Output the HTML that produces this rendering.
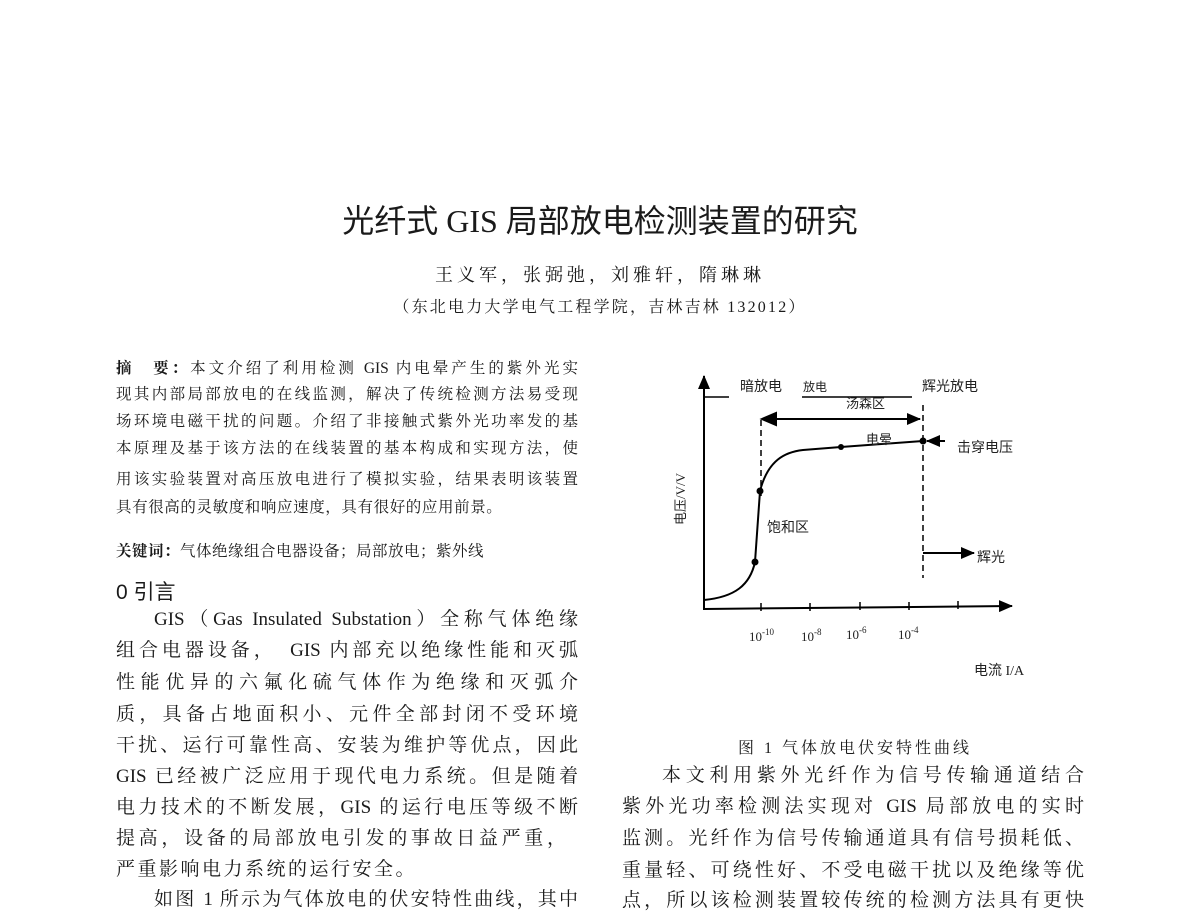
<!DOCTYPE html>
<html><head><meta charset="utf-8">
<style>
body{margin:0;width:1200px;height:897px;background:#fff;overflow:hidden;position:relative;font-family:"Liberation Serif","Noto Serif CJK SC","Noto Sans CJK SC",serif;color:#1a1a1a}
.l{position:absolute;text-align:justify;text-align-last:justify;overflow:hidden;white-space:normal;line-height:1.3}
.a{left:116px;width:462px;font-size:15.5px;height:21px}
.b{left:116px;width:462px;font-size:19px;height:25px}
.r{left:622px;width:462px;font-size:19px;height:25px}
.c{position:absolute;white-space:nowrap}
svg text{font-family:"Liberation Serif","Noto Sans CJK SC",serif;fill:#222}
</style></head><body>
<div class="c" style="left:0;width:1200px;text-align:center;top:196px;font-size:32px;font-family:'Liberation Serif','Noto Sans CJK SC',sans-serif">光纤式 GIS 局部放电检测装置的研究</div>
<div class="c" style="left:0;width:1200px;text-align:center;top:261px;font-size:18px;letter-spacing:4px">王义军，张弼弛，刘雅轩，隋琳琳</div>
<div class="c" style="left:0;width:1200px;text-align:center;top:294px;font-size:16px;letter-spacing:2.2px">（东北电力大学电气工程学院，吉林吉林 132012）</div>

<div class="l a" style="top:359px"><b>摘　要：</b>本文介绍了利用检测 GIS 内电晕产生的紫外光实</div>
<div class="l a" style="top:385px">现其内部局部放电的在线监测，解决了传统检测方法易受现</div>
<div class="l a" style="top:412px">场环境电磁干扰的问题。介绍了非接触式紫外光功率发的基</div>
<div class="l a" style="top:439px">本原理及基于该方法的在线装置的基本构成和实现方法，使</div>
<div class="l a" style="top:470px">用该实验装置对高压放电进行了模拟实验，结果表明该装置</div>
<div class="l a" style="top:498px;text-align-last:left;letter-spacing:0.6px">具有很高的灵敏度和响应速度，具有很好的应用前景。</div>
<div class="c" style="left:116px;top:539px;font-size:15.5px;letter-spacing:0.5px"><b>关键词：</b>气体绝缘组合电器设备；局部放电；紫外线</div>
<div class="c" style="left:116px;top:576px;font-size:21px;font-family:'Liberation Sans','Noto Sans CJK SC',sans-serif">0 引言</div>

<div class="l b" style="top:608px;left:154px;width:424px">GIS（Gas Insulated Substation）全称气体绝缘</div>
<div class="l b" style="top:639px">组合电器设备，　GIS 内部充以绝缘性能和灭弧</div>
<div class="l b" style="top:671px">性能优异的六氟化硫气体作为绝缘和灭弧介</div>
<div class="l b" style="top:703px">质，具备占地面积小、元件全部封闭不受环境</div>
<div class="l b" style="top:734px">干扰、运行可靠性高、安装为维护等优点，因此</div>
<div class="l b" style="top:765px">GIS 已经被广泛应用于现代电力系统。但是随着</div>
<div class="l b" style="top:796px">电力技术的不断发展，GIS 的运行电压等级不断</div>
<div class="l b" style="top:827px;width:450px">提高，设备的局部放电引发的事故日益严重，</div>
<div class="l b" style="top:858px;text-align-last:left;letter-spacing:2.5px">严重影响电力系统的运行安全。</div>
<div class="l b" style="top:888px;left:154px;width:424px">如图 1 所示为气体放电的伏安特性曲线，其中</div>

<div class="c" style="left:0;width:1710px;text-align:center;top:735px;font-size:16px;letter-spacing:3px">图 1 气体放电伏安特性曲线</div>
<div class="l r" style="top:764px;left:662px;width:422px">本文利用紫外光纤作为信号传输通道结合</div>
<div class="l r" style="top:795px">紫外光功率检测法实现对 GIS 局部放电的实时</div>
<div class="l r" style="top:827px">监测。光纤作为信号传输通道具有信号损耗低、</div>
<div class="l r" style="top:859px">重量轻、可绕性好、不受电磁干扰以及绝缘等优</div>
<div class="l r" style="top:889px">点，所以该检测装置较传统的检测方法具有更快</div>

<svg style="position:absolute;left:0;top:0" width="1200" height="897">
<defs><marker id="ar2" markerWidth="14" markerHeight="12" refX="13" refY="6" orient="auto" markerUnits="userSpaceOnUse"><path d="M0,0 L14,6 L0,12z" fill="#000"/></marker></defs>
<g stroke="#000" fill="none" stroke-width="2">
<line x1="704" y1="610" x2="704" y2="376" marker-end="url(#ar2)"/>
<line x1="704" y1="609" x2="1012" y2="606" marker-end="url(#ar2)"/>
<line x1="704" y1="397" x2="729" y2="397" stroke-width="1.5"/>
<line x1="802" y1="397" x2="912" y2="397" stroke-width="1.5"/>
<line x1="775" y1="419" x2="920" y2="419" marker-end="url(#ar2)"/>
<line x1="775" y1="419" x2="762" y2="419"/>
<path d="M762,419 L776,413 L776,425z" fill="#000"/>
<line x1="761" y1="420" x2="761" y2="500" stroke-dasharray="6,4" stroke-width="1.5"/>
<line x1="923" y1="405" x2="923" y2="578" stroke-dasharray="6,4" stroke-width="1.5"/>
<line x1="945" y1="441" x2="927" y2="441" marker-end="url(#ar2)"/>
<line x1="923" y1="553" x2="974" y2="553" marker-end="url(#ar2)"/>
<path d="M704,600 C735,597 750,585 755,562 L760,491 C768,460 785,452 803,450 L841,447 L923,441"/>
<g stroke-width="1.5"><line x1="761" y1="603" x2="761" y2="611"/><line x1="810" y1="603" x2="810" y2="611"/><line x1="860" y1="602" x2="860" y2="610"/><line x1="909" y1="602" x2="909" y2="610"/><line x1="958" y1="601" x2="958" y2="609"/></g>
</g>
<g fill="#000"><circle cx="755" cy="562" r="3.5"/><circle cx="760" cy="491" r="3.5"/><circle cx="841" cy="447" r="3"/><circle cx="923" cy="441" r="3.5"/></g>
<g font-size="14">
<text x="740" y="391">暗放电</text><text x="803" y="391" font-size="12">放电</text><text x="922" y="391">辉光放电</text>
<text x="846" y="408" font-size="13">汤森区</text><text x="866" y="444" font-size="13">电晕</text>
<text x="957" y="452">击穿电压</text><text x="767" y="532">饱和区</text><text x="977" y="562">辉光</text>
<text x="749" y="641" font-size="13">10<tspan dy="-6" font-size="9">-10</tspan></text>
<text x="801" y="641" font-size="13">10<tspan dy="-6" font-size="9">-8</tspan></text>
<text x="846" y="639" font-size="13">10<tspan dy="-6" font-size="9">-6</tspan></text>
<text x="898" y="639" font-size="13">10<tspan dy="-6" font-size="9">-4</tspan></text>
<text x="974" y="675">电流  I/A</text>
<text transform="translate(685,525) rotate(-90)" font-size="13">电压/V/V</text>
</g>
</svg>
</body></html>
